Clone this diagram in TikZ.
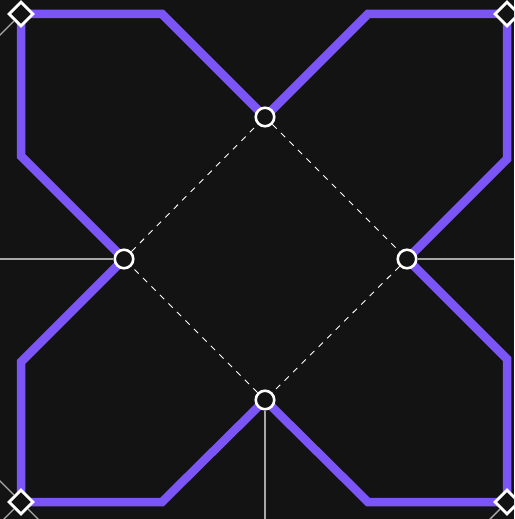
\documentclass[tikz,border=0pt]{standalone}
\usepackage{xcolor}
\usetikzlibrary{shapes.geometric}
\definecolor{ink}{HTML}{131313}
\definecolor{lilac}{HTML}{7B55F5}
\definecolor{wire}{HTML}{A8A8A8}

\begin{document}
\begin{tikzpicture}[x=1pt, y=-1pt,
    track/.style={lilac, line width=8.5pt},
    hub/.style={circle, draw=white, fill=ink, line width=2.6pt, minimum size=18.5pt, inner sep=0pt},
    tip/.style={diamond, aspect=1, draw=white, fill=ink, line width=2.8pt, minimum size=25pt, inner sep=0pt},
    guide/.style={wire, line width=1.4pt},
    link/.style={white, line width=0.9pt, dash pattern=on 6pt off 6pt}]
    \fill[ink] (0,0) rectangle (514,519);
    \useasboundingbox (0,0) rectangle (514,519);
    \clip (0,0) rectangle (514,519);
    % anchor points
    \coordinate (pnw) at (21,14);
    \coordinate (pne) at (507,14);
    \coordinate (psw) at (21,502);
    \coordinate (pse) at (507,502);
    \coordinate (pt) at (265,117);
    \coordinate (pl) at (124,259);
    \coordinate (pr) at (407,259);
    \coordinate (pb) at (265,400);
    % outline
    \draw[track] (pnw) -- (162,14) -- (pt) -- (368,14) -- (pne) -- (507,159) -- (pr)
      -- (507,359) -- (pse) -- (368,502) -- (pb) -- (162,502) -- (psw) -- (21,362)
      -- (pl) -- (21,156) -- cycle;
    % vertices
    \foreach \p in {t, l, r, b}
      \node[hub] (\p) at (p\p) {};
    \foreach \p in {nw, ne, sw, se}
      \node[tip] (\p) at (p\p) {};
    % inner square
    \draw[link] (t) -- (r);
    \draw[link] (r) -- (b);
    \draw[link] (b) -- (l);
    \draw[link] (l) -- (t);
    % loose ends
    \coordinate (el) at (0,259);
    \coordinate (er) at (514,259);
    \coordinate (eb) at (265,519);
    \coordinate (enw) at (-30,65);
    \coordinate (eswa) at (-30,451);
    \coordinate (eswb) at (-30,553);
    \coordinate (eswc) at (72,553);
    \coordinate (ese) at (456,553);
    \draw[guide] (l) -- (el);
    \draw[guide] (r) -- (er);
    \draw[guide] (b) -- (eb);
    \draw[guide] (nw) -- (enw);
    \draw[guide] (sw) -- (eswa);
    \draw[guide] (sw) -- (eswb);
    \draw[guide] (sw) -- (eswc);
    \draw[guide] (se) -- (ese);
\end{tikzpicture}
\end{document}
